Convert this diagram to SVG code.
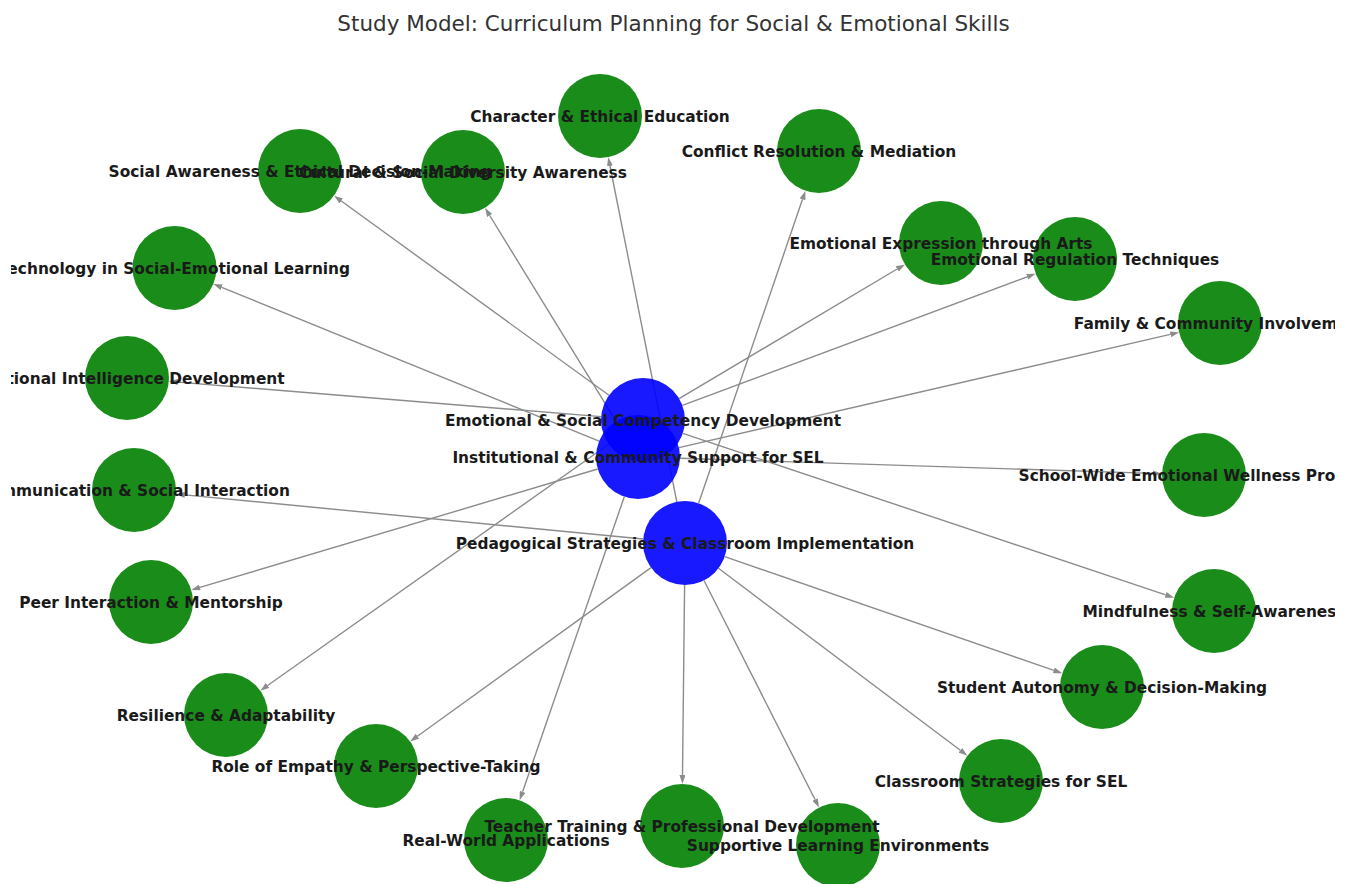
<svg xmlns="http://www.w3.org/2000/svg" width="1352" height="884" viewBox="0 0 1352 884">
  <style>
    .edge { stroke: #8c8c8c; stroke-width: 1.4; fill: none; marker-end: url(#arr); }
    .hub { fill: #0000ff; fill-opacity: 0.9; }
    .leaf { fill: #008000; fill-opacity: 0.9; }
    .lbl { font-family: "DejaVu Sans", "Liberation Sans", sans-serif; font-weight: bold; font-size: 15.4px; fill: #1a1a1a; text-anchor: middle; }
    .title { font-family: "DejaVu Sans", "Liberation Sans", sans-serif; font-size: 21.5px; fill: #333333; text-anchor: middle; }
  </style>
  <defs>
    <marker id="arr" markerWidth="9" markerHeight="6" refX="0" refY="3" orient="auto" markerUnits="userSpaceOnUse">
      <path d="M0,0 L9,3 L0,6 z" fill="#8c8c8c"/>
    </marker>
    <clipPath id="axes">
      <rect x="11" y="0" width="1324" height="884"/>
    </clipPath>
  </defs>

  <rect width="1352" height="884" fill="#ffffff"/>

  <text class="title" x="673.5" y="31">Study Model: Curriculum Planning for Social &amp; Emotional Skills</text>

  <!-- connectors: hub boundary to leaf boundary -->
  <g id="edges">
    <path class="edge" d="M676.8,501.8 L610.0,166.0"/>
    <path class="edge" d="M698.6,503.3 L802.5,199.3"/>
    <path class="edge" d="M609.0,395.3 L341.3,201.0"/>
    <path class="edge" d="M616.0,421.2 L489.7,215.5"/>
    <path class="edge" d="M599.1,441.1 L221.7,287.3"/>
    <path class="edge" d="M601.1,416.6 L177.8,382.1"/>
    <path class="edge" d="M643.2,539.0 L184.8,494.9"/>
    <path class="edge" d="M597.7,469.0 L199.9,587.4"/>
    <path class="edge" d="M608.7,444.3 L267.6,685.5"/>
    <path class="edge" d="M651.0,567.6 L417.4,736.2"/>
    <path class="edge" d="M624.3,496.7 L522.6,791.8"/>
    <path class="edge" d="M684.6,585.0 L682.5,775.0"/>
    <path class="edge" d="M704.0,580.5 L815.0,799.5"/>
    <path class="edge" d="M718.5,568.3 L960.3,750.3"/>
    <path class="edge" d="M724.7,556.7 L1053.8,670.4"/>
    <path class="edge" d="M682.8,433.3 L1165.6,594.8"/>
    <path class="edge" d="M680.0,458.3 L1153.0,473.4"/>
    <path class="edge" d="M678.9,447.6 L1170.3,334.4"/>
    <path class="edge" d="M682.4,405.3 L1027.2,276.8"/>
    <path class="edge" d="M679.1,398.6 L897.2,269.0"/>
  </g>

  <!-- nodes -->
  <g id="n-competency"><circle class="hub" cx="643" cy="420" r="42"/></g>
  <g id="n-institutional"><circle class="hub" cx="638" cy="457" r="42"/></g>
  <g id="n-pedagogical"><circle class="hub" cx="685" cy="543" r="42"/></g>
  <g id="n-character"><circle class="leaf" cx="600" cy="116" r="42"/></g>
  <g id="n-conflict"><circle class="leaf" cx="819" cy="151" r="42"/></g>
  <g id="n-social-awareness"><circle class="leaf" cx="300" cy="171" r="42"/></g>
  <g id="n-cultural"><circle class="leaf" cx="463" cy="172" r="42"/></g>
  <g id="n-technology"><circle class="leaf" cx="174.5" cy="268" r="42"/></g>
  <g id="n-intelligence"><circle class="leaf" cx="127" cy="378" r="42"/></g>
  <g id="n-communication"><circle class="leaf" cx="134" cy="490" r="42"/></g>
  <g id="n-peer"><circle class="leaf" cx="151" cy="602" r="42"/></g>
  <g id="n-resilience"><circle class="leaf" cx="226" cy="715" r="42"/></g>
  <g id="n-empathy"><circle class="leaf" cx="376" cy="766" r="42"/></g>
  <g id="n-real-world"><circle class="leaf" cx="506" cy="840" r="42"/></g>
  <g id="n-teacher"><circle class="leaf" cx="682" cy="826" r="42"/></g>
  <g id="n-supportive"><circle class="leaf" cx="838" cy="845" r="42"/></g>
  <g id="n-classroom"><circle class="leaf" cx="1001" cy="781" r="42"/></g>
  <g id="n-autonomy"><circle class="leaf" cx="1102" cy="687" r="42"/></g>
  <g id="n-mindfulness"><circle class="leaf" cx="1214" cy="611" r="42"/></g>
  <g id="n-school-wide"><circle class="leaf" cx="1204" cy="475" r="42"/></g>
  <g id="n-family"><circle class="leaf" cx="1220" cy="323" r="42"/></g>
  <g id="n-regulation"><circle class="leaf" cx="1075" cy="259" r="42"/></g>
  <g id="n-expression"><circle class="leaf" cx="941" cy="243" r="42"/></g>

  <!-- labels, clipped to the plotting area -->
  <g id="labels" clip-path="url(#axes)">
    <text class="lbl" x="643" y="425.5">Emotional &amp; Social Competency Development</text>
    <text class="lbl" x="638" y="462.5">Institutional &amp; Community Support for SEL</text>
    <text class="lbl" x="685" y="548.5">Pedagogical Strategies &amp; Classroom Implementation</text>
    <text class="lbl" x="600" y="121.5">Character &amp; Ethical Education</text>
    <text class="lbl" x="819" y="156.5">Conflict Resolution &amp; Mediation</text>
    <text class="lbl" x="300" y="176.5">Social Awareness &amp; Ethical Decision-Making</text>
    <text class="lbl" x="463" y="177.5">Cultural &amp; Social Diversity Awareness</text>
    <text class="lbl" x="174.5" y="273.5">Technology in Social-Emotional Learning</text>
    <text class="lbl" x="127" y="383.5">Emotional Intelligence Development</text>
    <text class="lbl" x="134" y="495.5">Communication &amp; Social Interaction</text>
    <text class="lbl" x="151" y="607.5">Peer Interaction &amp; Mentorship</text>
    <text class="lbl" x="226" y="720.5">Resilience &amp; Adaptability</text>
    <text class="lbl" x="376" y="771.5">Role of Empathy &amp; Perspective-Taking</text>
    <text class="lbl" x="506" y="845.5">Real-World Applications</text>
    <text class="lbl" x="682" y="831.5">Teacher Training &amp; Professional Development</text>
    <text class="lbl" x="838" y="850.5">Supportive Learning Environments</text>
    <text class="lbl" x="1001" y="786.5">Classroom Strategies for SEL</text>
    <text class="lbl" x="1102" y="692.5">Student Autonomy &amp; Decision-Making</text>
    <text class="lbl" x="1214" y="616.5">Mindfulness &amp; Self-Awareness</text>
    <text class="lbl" x="1204" y="480.5">School-Wide Emotional Wellness Programs</text>
    <text class="lbl" x="1220" y="328.5">Family &amp; Community Involvement</text>
    <text class="lbl" x="1075" y="264.5">Emotional Regulation Techniques</text>
    <text class="lbl" x="941" y="248.5">Emotional Expression through Arts</text>
  </g>
</svg>
